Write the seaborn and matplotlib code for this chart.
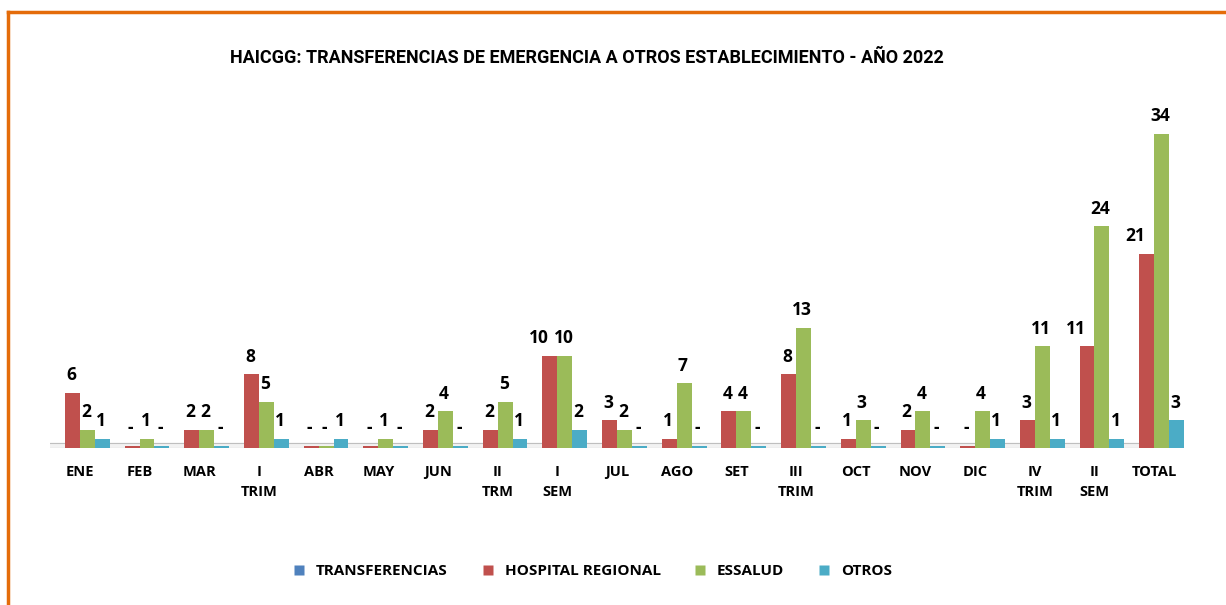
import numpy as np
import pandas as pd
import seaborn as sns
import matplotlib.pyplot as plt
from matplotlib.lines import Line2D

# datos
categorias = ['ENE', 'FEB', 'MAR', 'I\nTRIM', 'ABR', 'MAY', 'JUN', 'II\nTRM', 'I\nSEM',
              'JUL', 'AGO', 'SET', 'III\nTRIM', 'OCT', 'NOV', 'DIC', 'IV\nTRIM', 'II\nSEM', 'TOTAL']
transferencias = [np.nan] * 19
hospital = [6, 0, 2, 8, 0, 0, 2, 2, 10, 3, 1, 4, 8, 1, 2, 0, 3, 11, 21]
essalud = [2, 1, 2, 5, 0, 1, 4, 5, 10, 2, 7, 4, 13, 3, 4, 4, 11, 24, 34]
otros = [1, 0, 0, 1, 1, 0, 0, 1, 2, 0, 0, 0, 0, 0, 0, 1, 1, 1, 3]

series = ['TRANSFERENCIAS', 'HOSPITAL REGIONAL', 'ESSALUD', 'OTROS']
colores = ['#4F81BD', '#C0504D', '#9BBB59', '#4BACC6']

fuente = ['Open Sans', 'DejaVu Sans']

df = pd.DataFrame({'categoria': categorias,
                   'TRANSFERENCIAS': transferencias,
                   'HOSPITAL REGIONAL': hospital,
                   'ESSALUD': essalud,
                   'OTROS': otros})
largo = df.melt(id_vars='categoria', var_name='serie', value_name='valor')
# las barras en cero se ven como una lamina delgada
largo['alto'] = largo['valor'].where(largo['valor'] != 0, 0.25)

fig = plt.figure(figsize=(12.26, 6.05), dpi=100)
ax = fig.add_axes([50 / 1226, (605 - 448) / 605, 1134 / 1226, 370 / 605])

sns.barplot(data=largo, x='categoria', y='alto', hue='serie', hue_order=series,
            palette=colores, width=1.0, gap=0, ax=ax, legend=False,
            edgecolor='none', linewidth=0, saturation=1)

# piso gris
ax.axhspan(-0.15, 0.55, color='#f2f2f2', zorder=0.5)
ax.axhline(-0.15, color='#a6a6a6', lw=1.5, zorder=0.6)
ax.axhline(0.55, color='#bfbfbf', lw=0.8, zorder=0.6)

# etiquetas de datos
for cont, nombre in zip(ax.containers, series):
    vals = df[nombre].values
    for barra, v in zip(cont, vals):
        if np.isnan(v):
            continue
        txt = '-' if v == 0 else str(int(v))
        dx = -1
        if nombre == 'HOSPITAL REGIONAL' and v >= 10:
            dx = -8
        x = barra.get_x() + barra.get_width() / 2
        ax.annotate(txt, (x, barra.get_height()), xytext=(dx, 6),
                    textcoords='offset points', ha='center', va='bottom',
                    fontsize=12.5, fontweight='bold', family=fuente)

ax.set_ylim(0, 40)
ax.set_xlim(-0.5, 18.5)
ax.set_xlabel('')
ax.set_ylabel('')
ax.set_yticks([])
ax.tick_params(axis='x', length=0, pad=12)
for t in ax.get_xticklabels():
    t.set_fontsize(10.5)
    t.set_fontweight('bold')
    t.set_family(fuente)
    t.set_linespacing(1.6)
for s in ax.spines.values():
    s.set_visible(False)
ax.patch.set_alpha(0)

fig.text(587 / 1226, 1 - 58 / 605,
         'HAICGG: TRANSFERENCIAS DE EMERGENCIA A OTROS ESTABLECIMIENTO - AÑO 2022',
         ha='center', va='center', fontsize=13, fontweight='bold',
         family=['Roboto', 'DejaVu Sans'])

manejadores = [Line2D([0], [0], marker='s', linestyle='none', markersize=7,
                      markerfacecolor=c, markeredgecolor='none') for c in colores]
fig.legend(manejadores, series, loc='center', ncol=4, frameon=False,
           bbox_to_anchor=(588 / 1226, 1 - 571 / 605), handletextpad=0.1,
           columnspacing=1.6, prop={'family': fuente, 'weight': 'bold', 'size': 11})

# borde naranja
fig.add_artist(Line2D([8 / 1226, 1], [1 - 12 / 605, 1 - 12 / 605],
                      transform=fig.transFigure, color='#E46C0A', lw=2.5))
fig.add_artist(Line2D([8 / 1226, 8 / 1226], [0, 1 - 12 / 605],
                      transform=fig.transFigure, color='#E46C0A', lw=2.5))

fig.savefig('out.png', dpi=100)
